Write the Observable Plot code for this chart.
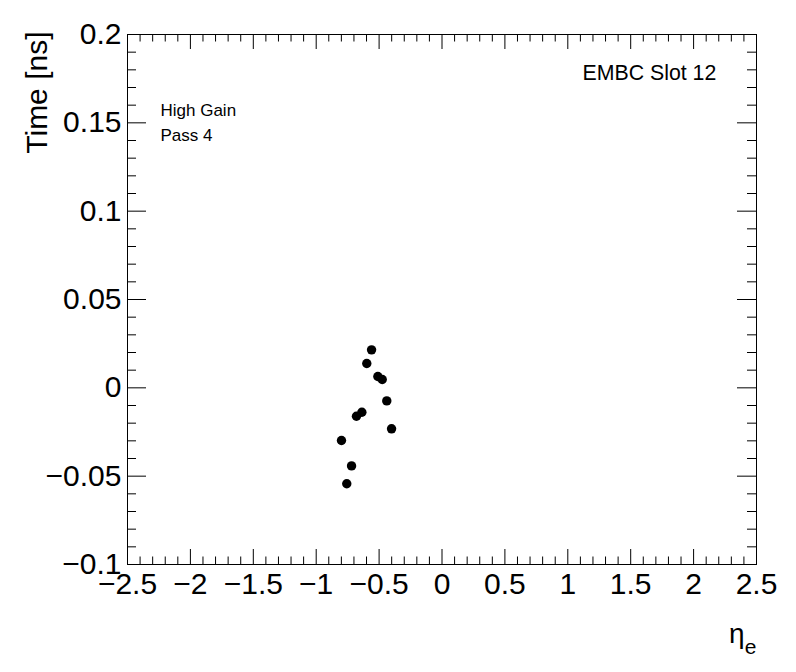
<!DOCTYPE html>
<html>
<head>
<meta charset="utf-8">
<script src="https://cdn.jsdelivr.net/npm/d3@7"></script>
<script src="https://cdn.jsdelivr.net/npm/@observablehq/plot@0.6"></script>
<style>
  html, body { margin: 0; padding: 0; background: #fff; }
  #chart svg { display: block; }
</style>
</head>
<body>
<div id="chart"></div>
<script>
// ---- data ----
const eta  = [-0.560, -0.598, -0.510, -0.475, -0.439, -0.680, -0.637, -0.401, -0.799, -0.719, -0.757];
const time = [0.0215, 0.0138, 0.0064, 0.0047, -0.0074, -0.0161, -0.0138, -0.0232, -0.0298, -0.0442, -0.0543];

const xMajorTicks = [-2.5, -2, -1.5, -1, -0.5, 0, 0.5, 1, 1.5, 2, 2.5];
const xMinorTicks = [-2.4,-2.3,-2.2,-2.1,-1.9,-1.8,-1.7,-1.6,-1.4,-1.3,-1.2,-1.1,-0.9,-0.8,-0.7,-0.6,-0.4,-0.3,-0.2,-0.1,
                     0.1,0.2,0.3,0.4,0.6,0.7,0.8,0.9,1.1,1.2,1.3,1.4,1.6,1.7,1.8,1.9,2.1,2.2,2.3,2.4];
const yMajorTicks = [-0.1, -0.05, 0, 0.05, 0.1, 0.15, 0.2];
const yMinorTicks = [-0.09,-0.08,-0.07,-0.06,-0.04,-0.03,-0.02,-0.01,0.01,0.02,0.03,0.04,
                     0.06,0.07,0.08,0.09,0.11,0.12,0.13,0.14,0.16,0.17,0.18,0.19];

const xTitle = "η";
const xTitleSub = "e";
const yTitle = "Time [ns]";
const label1 = "EMBC Slot 12";
const label2 = "High Gain";
const label3 = "Pass 4";

// ---- layout ----
const W = 796, H = 672;
const mL = 127, mR = 40, mT = 34, mB = 108;
const pw = W - mL - mR, ph = H - mT - mB;
const xMaj = 15, xMin = 7.5, yMaj = 19, yMin = 9;

const points = eta.map((e, i) => ({eta: e, time: time[i]}));
const fmt = d => (d < 0 ? "\u2212" : "") + String(Math.abs(d));
const font = "'Liberation Sans', Arial, Helvetica, sans-serif";

const chart = Plot.plot({
  width: W, height: H,
  marginLeft: mL, marginRight: mR, marginTop: mT, marginBottom: mB,
  style: {fontFamily: font, background: "#fff", color: "#000"},
  x: {domain: [-2.5, 2.5], label: null},
  y: {domain: [-0.1, 0.2], label: null},
  marks: [
    // ticks: bottom & top
    Plot.tickX(xMajorTicks, {x: d => d, stroke: "black", insetTop: ph - xMaj}),
    Plot.tickX(xMinorTicks, {x: d => d, stroke: "black", insetTop: ph - xMin}),
    Plot.tickX(xMajorTicks, {x: d => d, stroke: "black", insetBottom: ph - xMaj}),
    Plot.tickX(xMinorTicks, {x: d => d, stroke: "black", insetBottom: ph - xMin}),
    // ticks: left & right
    Plot.tickY(yMajorTicks, {y: d => d, stroke: "black", insetRight: pw - yMaj}),
    Plot.tickY(yMinorTicks, {y: d => d, stroke: "black", insetRight: pw - yMin}),
    Plot.tickY(yMajorTicks, {y: d => d, stroke: "black", insetLeft: pw - yMaj}),
    Plot.tickY(yMinorTicks, {y: d => d, stroke: "black", insetLeft: pw - yMin}),
    Plot.frame({stroke: "black", strokeWidth: 1}),
    Plot.axisX({ticks: xMajorTicks, tickFormat: fmt, tickSize: 0, tickPadding: 8, fontSize: 30, label: null}),
    Plot.axisY({ticks: yMajorTicks, tickFormat: fmt, tickSize: 0, tickPadding: 6, fontSize: 30, label: null}),
    Plot.dot(points, {x: "eta", y: "time", r: 4.7, fill: "black", stroke: null}),
    // annotations
    Plot.text([label1], {text: d => d, frameAnchor: "top-left", dx: 455, dy: 45.5, textAnchor: "start", lineAnchor: "bottom", fontSize: 21.3, fill: "black"}),
    Plot.text([label2], {text: d => d, frameAnchor: "top-left", dx: 33, dy: 81, textAnchor: "start", lineAnchor: "bottom", fontSize: 17, fill: "black"}),
    Plot.text([label3], {text: d => d, frameAnchor: "top-left", dx: 33, dy: 106, textAnchor: "start", lineAnchor: "bottom", fontSize: 17, fill: "black"}),
    // axis titles
    Plot.text([yTitle], {text: d => d, frameAnchor: "top-left", dx: -81, dy: -3, rotate: -90, textAnchor: "end", lineAnchor: "bottom", fontSize: 30, fill: "black"}),
    Plot.text([xTitle], {text: d => d, frameAnchor: "bottom-right", dx: -12, dy: 78, textAnchor: "end", lineAnchor: "bottom", fontSize: 28, fill: "black"}),
    Plot.text([xTitleSub], {text: d => d, frameAnchor: "bottom-right", dx: 0, dy: 89, textAnchor: "end", lineAnchor: "bottom", fontSize: 21, fill: "black"})
  ]
});
document.getElementById("chart").appendChild(chart);
</script>
</body>
</html>
